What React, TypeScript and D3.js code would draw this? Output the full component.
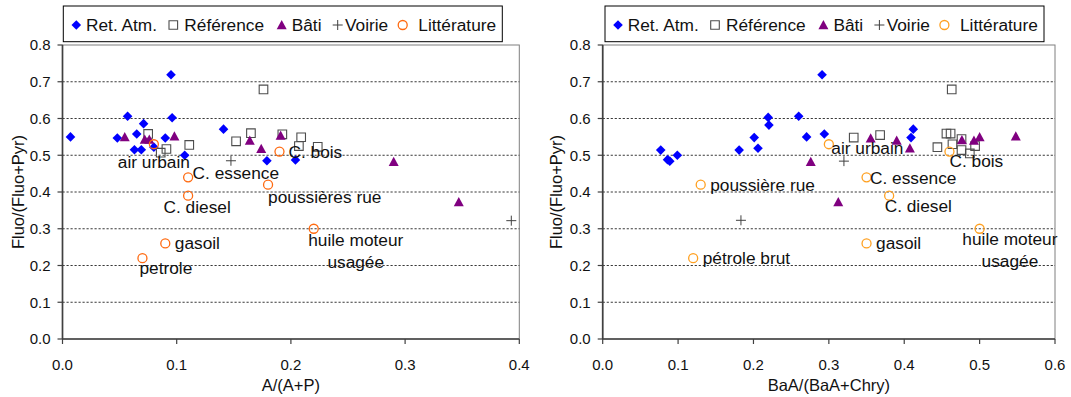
import React from "react";
import * as d3 from "d3";

type Pt = [number, number];

const seriesNames = ["Ret. Atm.", "Référence", "Bâti", "Voirie", "Littérature"];
const yTicks = [0, 0.1, 0.2, 0.3, 0.4, 0.5, 0.6, 0.7, 0.8];
const leftXTicks = [0, 0.1, 0.2, 0.3, 0.4];
const rightXTicks = [0, 0.1, 0.2, 0.3, 0.4, 0.5, 0.6];
const yTitle = "Fluo/(Fluo+Pyr)";
const leftXTitle = "A/(A+P)";
const rightXTitle = "BaA/(BaA+Chry)";

// ---- Left chart : A/(A+P) vs Fluo/(Fluo+Pyr)
const leftRetAtm: Pt[] = [
  [0.007, 0.55], [0.048, 0.547], [0.057, 0.606], [0.065, 0.558], [0.071, 0.586],
  [0.063, 0.515], [0.069, 0.515], [0.080, 0.522], [0.090, 0.547], [0.095, 0.719],
  [0.096, 0.602], [0.107, 0.5], [0.141, 0.571], [0.179, 0.485], [0.204, 0.487],
];
const leftReference: Pt[] = [
  [0.075, 0.558], [0.086, 0.507], [0.091, 0.517], [0.111, 0.528], [0.152, 0.538],
  [0.165, 0.56], [0.176, 0.679], [0.1925, 0.557], [0.209, 0.549], [0.207, 0.525],
  [0.2235, 0.523],
];
const leftBati: Pt[] = [
  [0.0545, 0.55], [0.072, 0.543], [0.076, 0.543], [0.098, 0.552], [0.164, 0.54],
  [0.174, 0.518], [0.191, 0.554], [0.29, 0.4825], [0.347, 0.373],
];
const leftVoirie: Pt[] = [[0.1475, 0.485], [0.393, 0.322]];
const leftLitNames = ["air urbain", "C. essence", "C. diesel", "gasoil", "petrole", "poussières rue", "huile moteur|usagée", "C. bois"];
const leftLit: Pt[] = [
  [0.08, 0.53], [0.11, 0.44], [0.11, 0.39], [0.09, 0.26], [0.07, 0.22],
  [0.18, 0.42], [0.22, 0.3], [0.19, 0.51],
];

// ---- Right chart : BaA/(BaA+Chry) vs Fluo/(Fluo+Pyr)
const rightRetAtm: Pt[] = [
  [0.077, 0.514], [0.086, 0.488], [0.089, 0.484], [0.099, 0.5], [0.181, 0.514],
  [0.201, 0.548], [0.206, 0.519], [0.2195, 0.603], [0.2205, 0.582], [0.26, 0.606],
  [0.2705, 0.55], [0.294, 0.558], [0.291, 0.719], [0.412, 0.571], [0.409, 0.548],
];
const rightReference: Pt[] = [
  [0.333, 0.548], [0.368, 0.555], [0.444, 0.522], [0.456, 0.559], [0.4615, 0.559],
  [0.464, 0.53], [0.476, 0.514], [0.487, 0.505], [0.494, 0.525], [0.463, 0.679],
  [0.476, 0.544],
];
const rightBati: Pt[] = [
  [0.3555, 0.546], [0.39, 0.54], [0.4075, 0.519], [0.4765, 0.5415], [0.4925, 0.54],
  [0.5, 0.55], [0.548, 0.552], [0.3125, 0.373], [0.276, 0.4825],
];
const rightVoirie: Pt[] = [[0.32, 0.484], [0.1834, 0.323]];
const rightLitNames = ["air urbain", "C. essence", "C. diesel", "gasoil", "pétrole brut", "poussière rue", "huile moteur|usagée", "C. bois"];
const rightLit: Pt[] = [
  [0.3, 0.53], [0.35, 0.44], [0.38, 0.39], [0.35, 0.26], [0.12, 0.22],
  [0.13, 0.42], [0.5, 0.3], [0.46, 0.51],
];

// label placement (dx, dy of first baseline, anchor)
type LabelPos = [number, number, "start" | "middle"];
const leftLabelPos: LabelPos[] = [
  [0, 23.5, "middle"], [4.5, 1.5, "start"], [9, 17, "middle"], [9.5, 6, "start"],
  [-3, 16, "start"], [0, 18, "start"], [42, 17.3, "middle"], [9, 6, "start"],
];
const rightLabelPos: LabelPos[] = [
  [2.5, 9.5, "start"], [3.5, 6.5, "start"], [-4.5, 16, "start"], [9.5, 6, "start"],
  [9.5, 6, "start"], [9.5, 6.3, "start"], [30.3, 16.7, "middle"], [0, 15.7, "start"],
];

const FONT = "'Liberation Sans', Arial, Helvetica, sans-serif";
const BLUE = "#0000FF";
const PURPLE = "#800080";
const GRAY = "#4d4d4d";
const CROSS = "#404040";

const diamond = (x: number, y: number, r = 4.8) =>
  `M${x},${y - r}L${x + r},${y}L${x},${y + r}L${x - r},${y}Z`;
const square = (x: number, y: number, h = 4.3) =>
  `M${x - h},${y - h}H${x + h}V${y + h}H${x - h}Z`;
const triangle = (x: number, y: number, h = 5) =>
  `M${x},${y - h}L${x + h},${y + h * 0.85}L${x - h},${y + h * 0.85}Z`;
const cross = (x: number, y: number, h = 5) =>
  `M${x - h},${y}H${x + h}M${x},${y - h}V${y + h}`;

interface ChartProps {
  x0: number; x1: number; xMax: number; xTicks: number[]; xTitle: string;
  retAtm: Pt[]; reference: Pt[]; bati: Pt[]; voirie: Pt[]; lit: Pt[];
  litNames: string[]; labelPos: LabelPos[]; orange: string;
  legendX: number; yTitleX: number;
}

function Marker({ kind, x, y, orange }: { kind: number; x: number; y: number; orange: string }) {
  if (kind === 0) return <path d={diamond(x, y)} fill={BLUE} />;
  if (kind === 1) return <path d={square(x, y)} fill="none" stroke={GRAY} strokeWidth={1.1} />;
  if (kind === 2) return <path d={triangle(x, y)} fill={PURPLE} />;
  if (kind === 3) return <path d={cross(x, y)} fill="none" stroke={CROSS} strokeWidth={1} />;
  return <circle cx={x} cy={y} r={4.5} fill="none" stroke={orange} strokeWidth={1.3} />;
}

const legendOffsets = [
  [13, 22.7], [110, 121], [218.4, 228.4], [274.4, 281.7], [339.4, 355],
];

function Chart(p: ChartProps) {
  const x = d3.scaleLinear().domain([0, p.xMax]).range([p.x0, p.x1]);
  const y = d3.scaleLinear().domain([0, 0.8]).range([339, 45]);
  const series: Pt[][] = [p.retAtm, p.reference, p.bati, p.voirie, p.lit];
  const legendW = 439;
  return (
    <g fontFamily={FONT}>
      {/* plot frame */}
      <rect x={p.x0} y={y(0.8)} width={p.x1 - p.x0} height={y(0) - y(0.8)} fill="none" stroke="#7f7f7f" strokeWidth={1} />
      {yTicks.filter((t) => t > 0 && t < 0.8).map((t) => (
        <line key={t} x1={p.x0} x2={p.x1} y1={y(t)} y2={y(t)} stroke="#222" strokeWidth={0.9} strokeDasharray="2.2,1.8" />
      ))}
      {/* axes */}
      <line x1={p.x0} x2={p.x0} y1={y(0.8)} y2={y(0)} stroke="#404040" strokeWidth={1.7} />
      <line x1={p.x0} x2={p.x1} y1={y(0)} y2={y(0)} stroke="#404040" strokeWidth={1.7} />
      {yTicks.map((t) => (
        <g key={"y" + t}>
          <line x1={p.x0 - 5} x2={p.x0} y1={y(t)} y2={y(t)} stroke="#404040" strokeWidth={1.2} />
          <text x={p.x0 - 12} y={y(t) + 5.4} textAnchor="end" fontSize={15} fill="#111">{d3.format(".1f")(t)}</text>
        </g>
      ))}
      {p.xTicks.map((t) => (
        <g key={"x" + t}>
          <line x1={x(t)} x2={x(t)} y1={y(0)} y2={y(0) + 5} stroke="#404040" strokeWidth={1.2} />
          <text x={x(t)} y={369.5} textAnchor="middle" fontSize={15} fill="#111">{d3.format(".1f")(t)}</text>
        </g>
      ))}
      <text x={(p.x0 + p.x1) / 2} y={391} textAnchor="middle" fontSize={16.5} fill="#111">{p.xTitle}</text>
      <text transform={`translate(${p.yTitleX},${(y(0) + y(0.8)) / 2}) rotate(-90)`} textAnchor="middle" fontSize={16.5} fill="#111">{yTitle}</text>
      {/* points */}
      {series.map((s, k) => (
        <g key={"s" + k}>
          {s.map((d, i) => (
            <Marker key={i} kind={k} x={x(d[0])} y={y(d[1])} orange={p.orange} />
          ))}
        </g>
      ))}
      {/* literature labels */}
      {p.lit.map((d, i) => {
        const [dx, dy, anchor] = p.labelPos[i];
        const lines = p.litNames[i].split("|");
        return (
          <text key={"l" + i} x={x(d[0]) + dx} y={y(d[1]) + dy} textAnchor={anchor} fontSize={17.3} fill="#111">
            {lines.map((ln, j) => (
              <tspan key={j} x={x(d[0]) + dx} dy={j === 0 ? 0 : 21.7}>{ln}</tspan>
            ))}
          </text>
        );
      })}
      {/* legend */}
      <g transform={`translate(${p.legendX},6)`}>
        <rect x={0} y={0} width={legendW} height={35.7} fill="#fff" stroke="#000" strokeWidth={1} />
        {seriesNames.map((n, k) => (
          <g key={"lg" + k}>
            <Marker kind={k} x={legendOffsets[k][0]} y={19} orange={p.orange} />
            <text x={legendOffsets[k][1]} y={25} fontSize={17.3} fill="#111">{n}</text>
          </g>
        ))}
      </g>
    </g>
  );
}

export default function App() {
  return (
    <svg width={1071} height={397} style={{ position: "absolute", left: 0, top: 0, background: "#fff" }}>
      <rect width={1071} height={397} fill="#fff" />
      <Chart x0={62.5} x1={519.3} xMax={0.4} xTicks={leftXTicks} xTitle={leftXTitle}
        retAtm={leftRetAtm} reference={leftReference} bati={leftBati} voirie={leftVoirie} lit={leftLit}
        litNames={leftLitNames} labelPos={leftLabelPos} orange="#FF6A10" legendX={63.3} yTitleX={23.5} />
      <Chart x0={602.7} x1={1055} xMax={0.6} xTicks={rightXTicks} xTitle={rightXTitle}
        retAtm={rightRetAtm} reference={rightReference} bati={rightBati} voirie={rightVoirie} lit={rightLit}
        litNames={rightLitNames} labelPos={rightLabelPos} orange="#FFA020" legendX={605} yTitleX={561.5} />
    </svg>
  );
}
